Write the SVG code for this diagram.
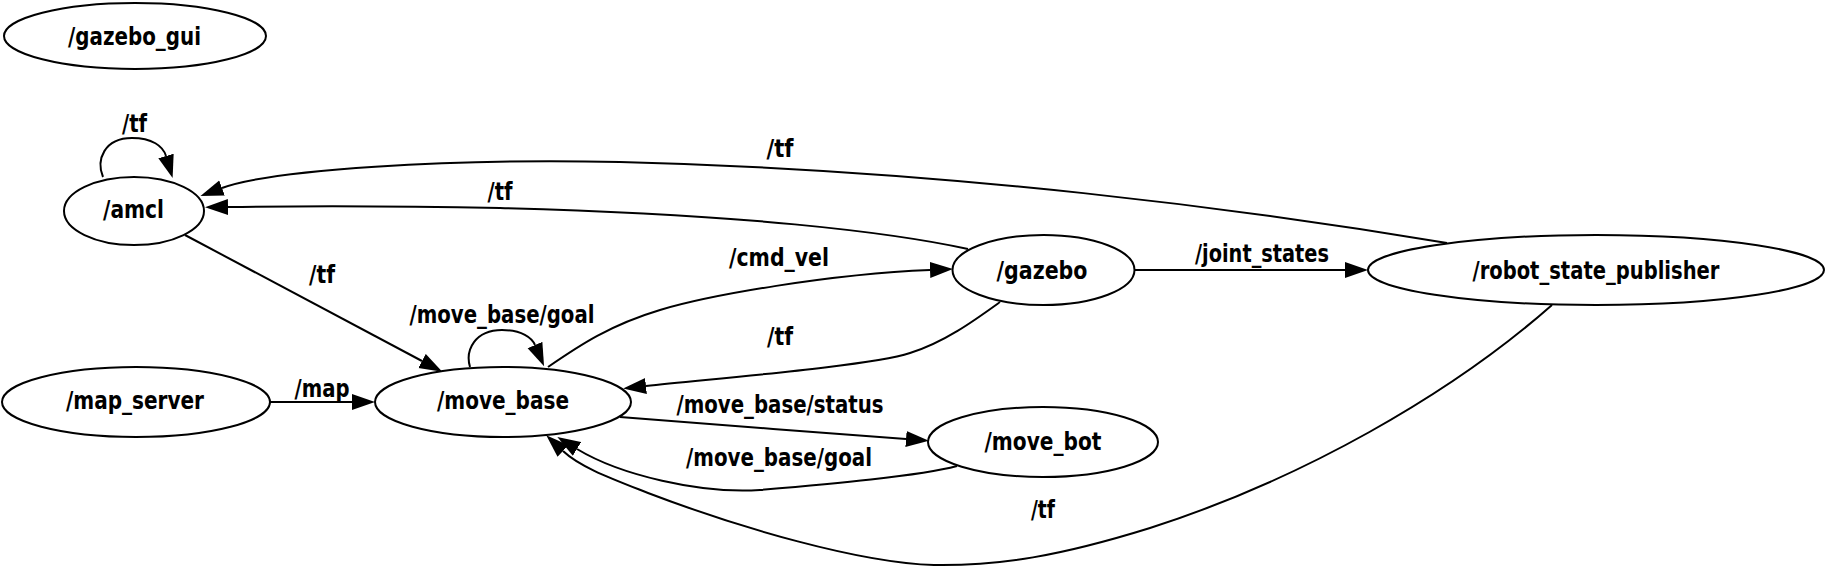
<svg xmlns="http://www.w3.org/2000/svg" width="1825" height="587" viewBox="0 0 1825 587">
<style>
.node ellipse{fill:#fff;stroke:#000;stroke-width:2}
text{font-family:"DejaVu Sans","Liberation Sans",sans-serif;font-weight:bold;font-size:25px;fill:#000;text-anchor:middle}
.edge path{fill:none;stroke:#000;stroke-width:2;marker-end:url(#ah)}
</style>
<defs>
<marker id="ah" markerUnits="userSpaceOnUse" markerWidth="24" markerHeight="17" viewBox="0 0 24 17" refX="0" refY="8.5" orient="auto">
<path d="M0,0.5 L23,8.5 L0,16.5 Z" fill="#000"/>
</marker>
</defs>
<rect width="1825" height="587" fill="#fff"/>
<g id="connectors" class="edge">
<path d="M103,177 C96,160 104,138 132,138 C152,138 163,146 166,156"/>
<text x="134.5" y="132" textLength="25" lengthAdjust="spacingAndGlyphs">/tf</text>
<path d="M1447,243 C1250,210 950,170 620,162 C450,158 270,170 222,188"/>
<text x="780" y="157" textLength="27" lengthAdjust="spacingAndGlyphs">/tf</text>
<path d="M968,249 C890,232 740,214 500,208 C400,206 300,206 228,207"/>
<text x="500" y="200" textLength="25" lengthAdjust="spacingAndGlyphs">/tf</text>
<path d="M185,235 L422,361"/>
<text x="322" y="283" textLength="26" lengthAdjust="spacingAndGlyphs">/tf</text>
<path d="M270,402 L352,402"/>
<text x="322" y="397" textLength="55" lengthAdjust="spacingAndGlyphs">/map</text>
<path d="M470,367 C465,350 475,330 502,330 C522,330 532,338 535,345"/>
<text x="502" y="323" textLength="185" lengthAdjust="spacingAndGlyphs">/move_base/goal</text>
<path d="M548,367 C580,345 610,325 660,310 C710,295 830,274 930,270"/>
<text x="779" y="266" textLength="100" lengthAdjust="spacingAndGlyphs">/cmd_vel</text>
<path d="M1000,302 C975,320 945,342 910,353 C870,366 720,378 646,386"/>
<text x="780" y="345" textLength="26" lengthAdjust="spacingAndGlyphs">/tf</text>
<path d="M1135,270 L1345,270"/>
<text x="1262" y="262" textLength="134" lengthAdjust="spacingAndGlyphs">/joint_states</text>
<path d="M620,417 C700,424 820,432 906,439"/>
<text x="780" y="413" textLength="207" lengthAdjust="spacingAndGlyphs">/move_base/status</text>
<path d="M957,466 C920,476 830,484 760,490 C700,494 620,475 577,449"/>
<text x="779" y="466" textLength="186" lengthAdjust="spacingAndGlyphs">/move_base/goal</text>
<path d="M1552,305 C1450,395 1300,480 1150,528 C1060,556 1000,566 934,565 C860,563 740,528 648,493 C610,478 580,467 563,451"/>
<text x="1043" y="518" textLength="24" lengthAdjust="spacingAndGlyphs">/tf</text>
</g>
<g id="gazebo_gui" class="node"><ellipse cx="135" cy="36" rx="131" ry="33"/><text x="134.5" y="45" textLength="133" lengthAdjust="spacingAndGlyphs">/gazebo_gui</text></g>
<g id="amcl" class="node"><ellipse cx="134" cy="211" rx="70" ry="34"/><text x="133.5" y="218" textLength="61" lengthAdjust="spacingAndGlyphs">/amcl</text></g>
<g id="map_server" class="node"><ellipse cx="136" cy="402" rx="134" ry="35"/><text x="135" y="409" textLength="138" lengthAdjust="spacingAndGlyphs">/map_server</text></g>
<g id="move_base" class="node"><ellipse cx="503" cy="402" rx="128" ry="35"/><text x="503" y="409" textLength="132" lengthAdjust="spacingAndGlyphs">/move_base</text></g>
<g id="gazebo" class="node"><ellipse cx="1043.5" cy="270" rx="91" ry="35"/><text x="1042" y="279" textLength="91" lengthAdjust="spacingAndGlyphs">/gazebo</text></g>
<g id="robot_state_publisher" class="node"><ellipse cx="1596" cy="270" rx="228" ry="35"/><text x="1596" y="279" textLength="247" lengthAdjust="spacingAndGlyphs">/robot_state_publisher</text></g>
<g id="move_bot" class="node"><ellipse cx="1043" cy="442" rx="115" ry="35"/><text x="1043" y="450" textLength="117" lengthAdjust="spacingAndGlyphs">/move_bot</text></g>
</svg>
